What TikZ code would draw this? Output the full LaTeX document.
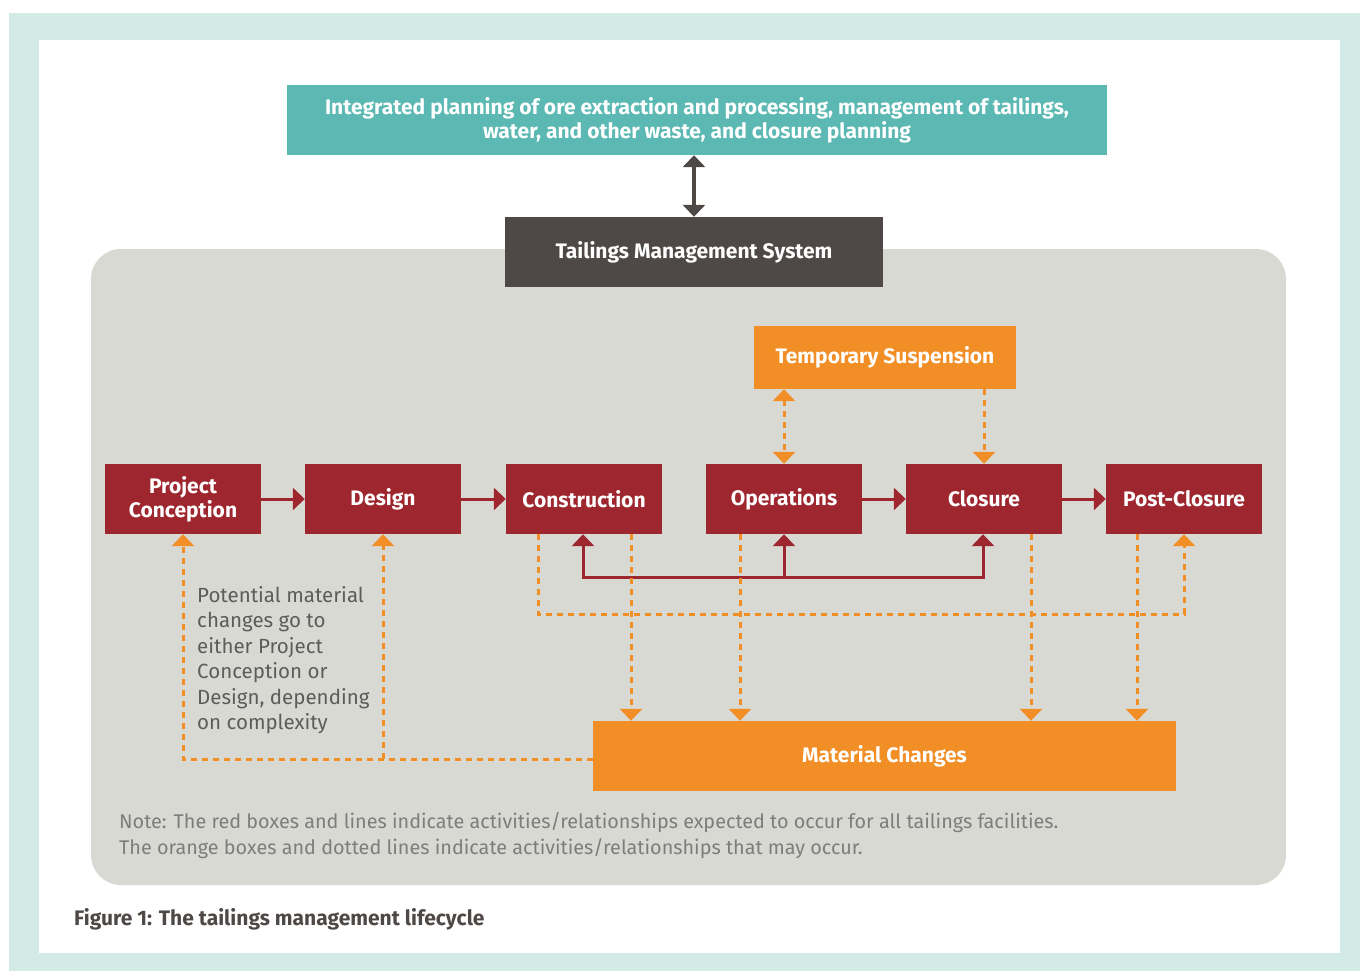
\documentclass[tikz,border=0pt]{standalone}
\usepackage{fontspec}
\setmainfont{Fira Sans}
\usetikzlibrary{arrows.meta,positioning}
\definecolor{frameteal}{HTML}{D2EBE7}
\definecolor{planteal}{HTML}{5BB8B2}
\definecolor{tmsgrey}{HTML}{4E4946}
\definecolor{panelgrey}{HTML}{D9D9D4}
\definecolor{lifered}{HTML}{9E272F}
\definecolor{maybeorange}{HTML}{F28E26}
\definecolor{notegrey}{HTML}{5C5C5C}
\tikzset{
  stagebox/.style={fill=lifered, text=white, font=\fontsize{21}{24}\selectfont\bfseries,
    minimum width=156pt, minimum height=70pt, inner sep=0pt, align=center},
  maybebox/.style={fill=maybeorange, text=white, font=\fontsize{21}{24}\selectfont\bfseries,
    inner sep=0pt, align=center},
  redline/.style={draw=lifered, line width=3pt, -{Triangle[width=22pt,length=12pt]}},
  orangedash/.style={draw=maybeorange, line width=3pt, dash pattern=on 6pt off 5pt,
    -{Triangle[width=22pt,length=12pt]}},
  tip2/.style={{Triangle[width=22pt,length=12pt]}-{Triangle[width=22pt,length=12pt]}}
}
\begin{document}
\begin{tikzpicture}[x=1pt,y=-1pt]
\useasboundingbox (0,0) rectangle (1360,971);
% frame and panel
\fill[frameteal] (9,13) rectangle (1360,971);
\fill[white] (39,40) rectangle (1340,953);
\fill[panelgrey, rounded corners=30pt] (91,249) rectangle (1286,885);

\node[fill=planteal, text=white, minimum width=820pt, minimum height=70pt, inner sep=0pt,
  align=center, font=\fontsize{21}{24}\selectfont\bfseries] (plan) at (697,120)
  {Integrated planning of ore extraction and processing, management of tailings,\\
   water, and other waste, and closure planning};
\node[fill=tmsgrey, text=white, minimum width=378pt, minimum height=70pt, inner sep=0pt,
  font=\fontsize{21}{24}\selectfont\bfseries] (tms) at (694,252) {Tailings Management System};
\node[maybebox, minimum width=262pt, minimum height=63pt] (temp) at (885,357.5) {Temporary Suspension};

% lifecycle stages
\node[stagebox] (pc)     at (183,499) {Project\\Conception};
\node[stagebox] (design) at (383,499) {Design};
\node[stagebox] (constr) at (584,499) {Construction};
\node[stagebox] (ops)    at (784,499) {Operations};
\node[stagebox] (clos)   at (984,499) {Closure};
\node[stagebox] (post)   at (1184,499) {Post-Closure};

\node[maybebox, minimum width=583pt, minimum height=70pt] (mat) at (884.5,756) {Material Changes};

\draw[draw=tmsgrey, line width=4pt, tip2] (tms.north -| 694,0) -- (plan.south -| 694,0);

\draw[redline] (pc) -- (design);
\draw[redline] (design) -- (constr);
\draw[redline] (ops) -- (clos);
\draw[redline] (clos) -- (post);

% red feedback bus
\coordinate (bus) at (784,577);
\draw[redline] (bus) -- (ops.south);
\draw[redline] (bus) -| ([xshift=-1pt]constr.south);
\draw[redline] (bus) -| ([xshift=-1pt]clos.south);

% orange relationships
\draw[orangedash, tip2] (ops.north |- temp.south) -- (ops.north);
\draw[orangedash] (clos.north |- temp.south) -- (clos.north);
\draw[orangedash] ([xshift=-46pt]constr.south) |- ([yshift=-80pt]post.south) -- (post.south);
\draw[orangedash] ([xshift=47pt]constr.south) -- ([xshift=47pt]constr.south |- mat.north);
\draw[orangedash] ([xshift=-44pt]ops.south) -- ([xshift=-44pt]ops.south |- mat.north);
\draw[orangedash] ([xshift=47pt]clos.south) -- ([xshift=47pt]clos.south |- mat.north);
\draw[orangedash] ([xshift=-47pt]post.south) -- ([xshift=-47pt]post.south |- mat.north);
\draw[orangedash] ([yshift=-3pt]mat.west) -| (pc.south);
\draw[orangedash] (design.south |- 0,759) -- (design.south);

\node[anchor=north west, align=left, text=notegrey, inner sep=0pt,
  font=\fontsize{20.5}{25.5}\selectfont] (hint) at (197,586)
  {Potential material\\changes go to\\either Project\\Conception or\\Design, depending\\on complexity};

\node[anchor=north west, align=left, text=notegrey!80, inner sep=0pt,
  font=\fontsize{19.8}{26}\selectfont] (note) at (119,812)
  {Note: The red boxes and lines indicate activities/relationships expected to occur for all tailings facilities.\\
   The orange boxes and dotted lines indicate activities/relationships that may occur.};
\node[anchor=base west, inner sep=0pt, text=tmsgrey, font=\fontsize{21}{24}\selectfont\bfseries]
  (caption) at (74,925) {Figure 1: The tailings management lifecycle};
\end{tikzpicture}
\end{document}
